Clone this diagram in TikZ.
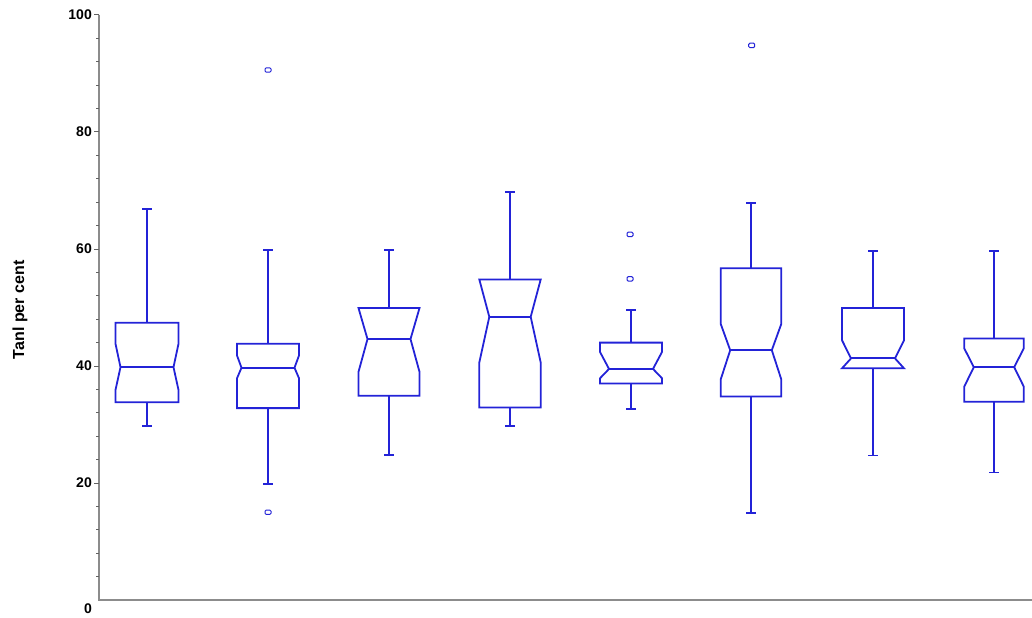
\documentclass[tikz,border=0pt]{standalone}
\usepackage{fontspec}
\setmainfont{Liberation Sans}
\definecolor{plotblue}{RGB}{35,35,215}
\definecolor{axisgray}{RGB}{140,140,140}
\tikzset{
  axisline/.style={draw=axisgray, line width=2pt},
  tickline/.style={draw=axisgray!70!black, line width=1pt},
  boxline/.style={draw=plotblue, line width=1.8pt, line join=miter},
  whisker/.style={draw=plotblue, line width=1.9pt},
  outlier/.style={draw=plotblue, line width=1pt, rounded corners=1.2pt},
  ticklabel/.style={font=\bfseries\fontsize{14}{14}\selectfont, anchor=east, inner sep=0pt},
  axislabel/.style={font=\bfseries\fontsize{16}{16}\selectfont, rotate=90, inner sep=0pt}
}
\begin{document}
\begin{tikzpicture}[x=1pt, y=5.85pt]
\useasboundingbox (0,-2.906) rectangle (1032,102.564);
% axes
\draw[axisline] (99,100) -- (99,0) -- (1032,0);
\foreach \v in {4,8,...,96} { \draw[tickline] (96,\v) -- (99,\v); }
\foreach \v in {20,40,...,100} { \draw[tickline] (94,\v) -- (99,\v); }
\foreach \v in {20,40,60,80,100} { \node[ticklabel] (lab\v) at (92,\v) {\v}; }
\node[ticklabel] (lab0) at (92,-1.45) {0};
\node[axislabel] (ylab) at (20,49.6) {Tanl per cent};
% boxes: cx/hw/q1/med/q3/notch top/notch bottom/inset/low cap/high cap
\foreach \cx/\hw/\qa/\md/\qc/\nt/\nb/\ins/\wl/\wh in {
  147/31.5/33.8/39.8/47.4/43.8/35.9/5/29.7/66.8,
  268/31/32.8/39.7/43.8/41.8/37.9/4.5/19.8/59.8,
  389/30.5/34.9/44.6/49.9/49.9/39/9/24.8/59.8,
  510/30.7/32.9/48.4/54.8/54.8/40.6/10/29.7/69.7,
  631/31/37/39.5/44/42.4/37.9/9/32.6/49.6,
  751/30.3/34.8/42.7/56.7/47.2/37.7/9.5/14.8/67.8,
  873/31/39.6/41.3/49.9/44.4/39.6/9/24.7/59.7,
  994/29.7/33.9/39.8/44.7/43/36.5/9.5/21.8/59.7} {
  \draw[boxline] (\cx-\hw,\qa) -- (\cx-\hw,\nb) -- (\cx-\hw+\ins,\md) -- (\cx-\hw,\nt) -- (\cx-\hw,\qc)
     -- (\cx+\hw,\qc) -- (\cx+\hw,\nt) -- (\cx+\hw-\ins,\md) -- (\cx+\hw,\nb) -- (\cx+\hw,\qa) -- cycle;
  \draw[boxline] (\cx-\hw+\ins,\md) -- (\cx+\hw-\ins,\md);
  \draw[whisker] (\cx,\qc) -- (\cx,\wh);
  \draw[whisker] (\cx-5,\wh) -- (\cx+5,\wh);
  \draw[whisker] (\cx,\qa) -- (\cx,\wl);
  \draw[whisker] (\cx-5,\wl) -- (\cx+5,\wl);
}
% outliers
\foreach \ox/\ov in {268/90.6, 268/15, 630/62.5, 630/54.9, 751.7/94.8} {
  \draw[outlier] (\ox-3,\ov-0.38) rectangle (\ox+3,\ov+0.38);
}
\end{tikzpicture}
\end{document}
